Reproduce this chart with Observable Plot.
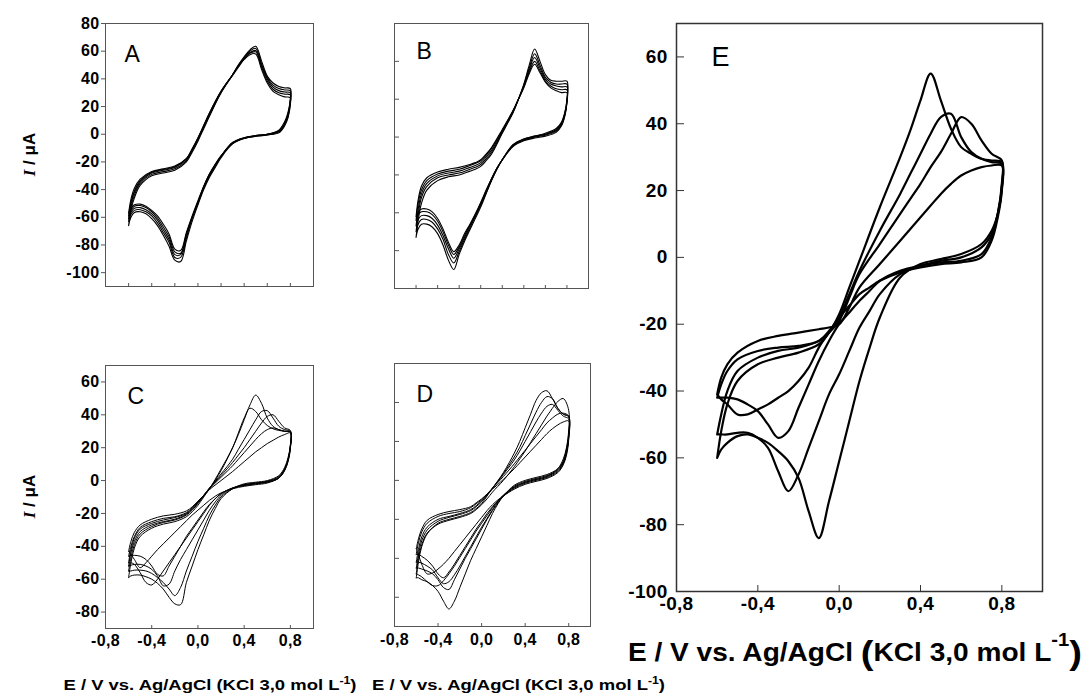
<!DOCTYPE html>
<html><head><meta charset="utf-8">
<script src="https://cdn.jsdelivr.net/npm/d3@7"></script>
<script src="https://cdn.jsdelivr.net/npm/@observablehq/plot@0.6"></script>
<style>
html,body{margin:0;padding:0;background:#fff;}
#wrap{position:relative;width:1086px;height:699px;overflow:hidden;font-family:"Liberation Sans",Arial,sans-serif;}
g[aria-label$="tick label"] text{letter-spacing:0.3px;}
</style></head><body><div id="wrap"></div>
<script>
// Potential grids (V): forward scan then reverse scan
const gridF = [-0.6,-0.58,-0.55,-0.5,-0.4,-0.3,-0.2,-0.1,-0.05,0,0.05,0.1,0.2,0.3,0.35,0.4,0.45,0.5,0.55,0.6,0.65,0.7,0.75,0.8];
const gridR = [0.8,0.78,0.75,0.7,0.6,0.5,0.4,0.3,0.2,0.15,0.1,0.05,0,-0.05,-0.1,-0.15,-0.2,-0.25,-0.3,-0.35,-0.4,-0.45,-0.5,-0.55,-0.58,-0.6];

// Panel A currents (µA)
const aForward = [
[-66,-55,-46,-37,-30,-28,-26,-20,-13,-5,4,13,30,43,50,56,61,63.5,53,42,37,34.5,33.5,33],
[-63,-53,-44,-35.5,-29,-27,-25,-19,-12,-4,5,14,30,43,50,55.5,60,62,51,41,35.5,33,32,31.5],
[-61,-51,-42,-34.5,-28,-26,-24,-18,-11,-3,6,15,31,43,49.5,55,59,60.5,50,40,34,31.5,30.5,30],
[-59,-49,-41,-33.5,-27.5,-25.5,-23.5,-18,-11,-3,6,15,31,43,49,54.5,58.5,59.5,48.5,38.5,32.5,30,29,28.5],
[-57,-47,-39,-32.5,-27,-25,-23,-17.5,-10.5,-2.5,6.5,15.5,31,42.5,48.5,54,57.5,58,47,37,31,28.5,27,26.5]];
const aReverse = [
[26,16,9,3,0,-1,-3,-7,-17,-24,-31,-40,-51,-63,-77,-92,-91,-81,-73,-66,-61,-57.5,-56,-56.5,-60,-66],
[25,15,8,2.5,0,-1,-2.5,-6,-16,-23,-30,-39,-50,-61,-75,-89,-89,-78,-71,-64,-59,-56,-54.5,-55,-58,-63],
[24,14,7.5,2,0,-1,-2.5,-6,-16,-22,-29,-38,-49,-60,-73,-87,-87,-76,-69,-62,-57.5,-54.5,-53,-53.5,-56.5,-61],
[23,13,7,1.5,-0.5,-1.5,-3,-6.5,-16,-22,-29,-38,-49,-60,-72,-86,-85,-74,-67,-60.5,-56,-53,-51.5,-52,-55,-59],
[22,12,6,1,-0.5,-1.5,-3,-6.5,-15.5,-21.5,-28.5,-37.5,-48,-59,-71,-84,-83,-72,-65,-59,-55,-52,-50.5,-51,-53.5,-57]];

// Panel B
const bForward = [
[-53,-44,-35,-28,-23,-21,-20,-18,-17,-15.5,-12.5,-9,2,13,20,28,38,46.5,40,33,30,29.5,29.5,29.5],
[-50,-41,-32,-26,-21.5,-20,-19,-17,-16,-14.5,-11.5,-8,2.5,13,20,27.5,36.5,44,38,31.5,29,28,28,28],
[-47,-38,-30,-24.5,-20.5,-19,-18,-16,-15,-13.5,-10.5,-7,3,13.5,20,27,35.5,42,36.5,30.5,28,27,26.5,26.5],
[-44,-35,-28,-23,-19.5,-18,-17,-15,-14,-12.5,-9.5,-6,3.5,14,20,26.5,34.5,40,35,29.5,27,25.5,25,25],
[-42,-33,-26,-21.5,-18.5,-17,-16,-14.5,-13.5,-12,-9,-5.5,4,14,20,26,33.5,38.5,34,29,26,24.5,23.5,23.5]];
const bReverse = [
[20,13,8,4.5,2,0.5,-1,-4,-12,-17,-23,-30,-37,-43,-49,-55,-62,-70,-65,-57,-51,-47.5,-46,-46,-48.5,-53],
[19.5,12.5,7.5,4,1.5,0.5,-1,-4,-12,-17,-23,-29.5,-36,-42,-48,-54,-60.5,-66.5,-62,-54,-48.5,-45,-43.5,-43.5,-46,-50],
[19,12,7,3.5,1.5,0,-1.5,-4.5,-12,-16.5,-22.5,-29,-35.5,-41.5,-47,-53,-59,-64,-59,-52,-46.5,-43,-41.5,-41.5,-43.5,-47],
[18.5,11.5,6.5,3,1,0,-1.5,-4.5,-12,-16.5,-22,-28.5,-35,-41,-46.5,-52,-58,-62,-57,-50,-44.5,-41,-39.5,-39.5,-41,-44],
[18,11,6,2.5,0.5,-0.5,-2,-5,-12,-16.5,-22,-28,-34.5,-40.5,-46,-51,-57,-60.5,-55.5,-48.5,-43,-39.5,-38,-38,-39.5,-42]];

// Panel C
const cForward = [
[-59,-50,-41,-34,-29,-26.5,-25,-22,-19,-15,-10,-5,6,20,28,37,46,52,47,38,33,31,30,29.5],
[-55,-47,-39,-32.5,-28,-25.5,-24,-21,-18,-14,-9.5,-5,7,20,29,38,44,42,37,33.5,31.5,30.5,30,29.5],
[-52,-44,-37,-31,-27,-25,-23.5,-20.5,-17.5,-13.5,-9,-4.5,4,13,19,25,31,37,42,42.5,38,33,31,30],
[-50,-42,-35,-29.5,-26,-24,-22.5,-20,-17,-13,-9,-4.5,3,11,15.5,20,25,30,35,39,40,36,32,30.5],
[-46,-40,-34,-28.5,-25,-23,-22,-19.5,-16.5,-13,-9,-5,2,9,13,17,21,25,28.5,31,32,31,30,29.5],
[-43,-37,-31.5,-27,-23.5,-21.5,-20.5,-18.5,-16,-12.5,-9,-5.5,0,5.5,8.5,11.5,14.5,17.5,20,22.5,24.5,26.5,28,29]];
const cReverse = [
[22,14,8,3,0,-1,-2,-5,-11,-17,-24,-33,-42,-52,-62,-75.5,-75,-71,-66,-62.5,-60,-58.5,-57.5,-57.5,-58,-59],
[21,13,7,2.5,-0.5,-1.5,-2.5,-5,-10,-15,-21,-29,-37,-46,-55,-65,-70,-66,-62,-59,-56.5,-55,-54.5,-54.5,-55,-55],
[21,13,7,2,-0.5,-1.5,-2.5,-4.5,-9,-13,-18,-24,-30,-36,-42,-48,-55,-63,-64,-58,-54,-52,-51,-51,-51.5,-52],
[20.5,12.5,6.5,1.5,-1,-2,-3,-4.5,-8,-11,-15,-20,-25,-30,-35,-40,-45,-50,-55,-60,-63.5,-62,-56,-51,-50,-50],
[20,12,6.5,1.5,-1,-2,-3,-4.5,-8,-11,-14.5,-19,-24,-29,-34,-40,-46,-52,-58,-57,-52,-48,-46,-45.5,-45.5,-46],
[19.5,11.5,6,1.5,-1.5,-2.5,-3.5,-5,-7.5,-9.5,-12,-15,-18,-21,-24.5,-28,-31.5,-35,-38.5,-42,-46,-50,-53,-48,-45,-43]];

// Panel D
const dForward = [
[-50,-42,-34,-27.5,-22,-20,-18.5,-16.5,-14.5,-12,-8,-4,4,14,20,27,34,41,45,46,42,37,34,33],
[-45,-38,-31,-25.5,-21,-19,-17.5,-15.5,-13.5,-11,-7.5,-4,3.5,12,17,23,29,35,40,43,42,37,34,32.5],
[-48,-40,-33,-27,-22.5,-20.5,-19,-17,-15,-12.5,-9.5,-6,0,7,11,15,19.5,24,28.5,33,37,40.5,42,36],
[-42,-35.5,-29,-24,-20,-18.5,-17,-15,-13,-10.5,-7.5,-4,3,10.5,15,20,25,30,34.5,38,39,36,33,31.5],
[-38,-32,-26.5,-22,-18.5,-17,-16,-14,-12,-10,-7,-4,2,8.5,12,15.5,19,22.5,26,29.5,32,34,34.5,33],
[-35,-30,-25,-20.5,-17.5,-16,-15,-13.5,-11.5,-9.5,-7,-4.5,0.5,6,9,12,15,18,21,24,26.5,28.5,30,30.5]];
const dReverse = [
[24,16,10,6,3,1.5,0,-2.5,-8,-12,-17,-23,-29,-35,-41,-48,-55,-62,-66,-62,-57,-54,-52,-51,-50,-50],
[23,15,9.5,5.5,2.5,1,-0.5,-3,-8,-11.5,-15.5,-20,-25,-30,-35,-40,-45.5,-51,-56,-55,-51,-48,-46.5,-45.5,-45,-45],
[26,17,11,6,2,0.5,-1,-3.5,-7.5,-10.5,-14,-18,-22,-26,-30.5,-35,-39.5,-44,-48,-51.5,-54,-54,-52,-49.5,-48.5,-48],
[22.5,14.5,9,5,2,0.5,-1,-3.5,-8,-11,-15,-19.5,-24,-29,-34,-39,-44,-48.5,-52,-53,-50,-46,-44,-42.5,-42,-42],
[22,14,8.5,4.5,1.5,0,-1.5,-4,-8,-10.5,-13.5,-17,-21,-25,-29.5,-34,-38.5,-43,-47,-50,-48,-44,-41,-39,-38,-38],
[21,13,8,4,1,-0.5,-2,-4.5,-8,-10,-12.5,-15.5,-19,-22.5,-26,-29.5,-33,-36.5,-40,-43,-45.5,-47.5,-48,-43,-38,-35]];

// Panel E
const eForward = [
[-60,-52,-44,-37,-32,-30,-28.5,-26,-22.5,-17,-9,-1,15,30,38,47,55,47,38.5,33,31,29.5,29,28.5],
[-53,-47,-40,-34,-30,-28,-27,-25,-22,-18,-11,-4,8,19,25,31,37,42,43,36,31.5,29.5,28.5,28],
[-42,-38,-34,-30.5,-28,-27,-26.5,-25,-22.5,-19,-12,-5,4,13,17.5,22,27,31.5,37,42,40,35,31,29],
[-41,-36,-32,-28.5,-25,-23.5,-22.5,-21.5,-21,-20,-15,-9,-2,5,8.5,12,15.5,19,22,24.5,26,27,27.5,27.5]];
const eReverse = [
[21,13,8,4,1,-0.5,-2,-6,-18,-27,-37,-49,-61,-73,-84,-76,-66,-61,-58,-55.5,-54,-53,-53.5,-55.5,-57.5,-60],
[21,13,7,3,0,-1,-2.5,-5,-11,-16,-21,-28,-35,-41,-49,-57,-65,-70,-64,-57,-54,-52.5,-52.5,-53,-53,-53],
[22,13,6,1,-1,-1.5,-2.5,-4,-7,-10,-13,-16.5,-20,-25,-31,-38,-45,-52,-54,-50,-46,-44,-42.5,-42,-42,-42],
[20,12,5,0,-1.5,-2,-3,-4.5,-7,-9,-11,-14.5,-18,-22.5,-27,-33,-37,-40,-42,-44,-45.5,-47,-47,-44,-42.5,-41]];

// Tick values
const ticksA_Y = [-100,-80,-60,-40,-20,0,20,40,60,80];
const ticksC_Y = [-80,-60,-40,-20,0,20,40,60];
const ticksBD_Y = [-60,-40,-20,0,20,40];
const ticksE_Y = [-100,-80,-60,-40,-20,0,20,40,60];
const ticksMinorX = [-0.6,-0.4,-0.2,0,0.2,0.4,0.6,0.8];
const ticksX = [-0.8,-0.4,0,0.4,0.8];
const panelLetters = ["A","B","C","D","E"];

const fmtI = d => String(d);
const fmtE = d => d.toFixed(1).replace(".", ",");
const wrap = document.getElementById("wrap");
const FONT = "'Liberation Sans', Arial, Helvetica, sans-serif";

function panel(cfg) {
  const ml = 70, mr = 12, mt = 12, mb = 34;
  const rows = [];
  cfg.fw.forEach((f, k) => {
    f.forEach((v, j) => rows.push({E: gridF[j], I: v, c: k}));
    cfg.rv[k].forEach((v, j) => rows.push({E: gridR[j], I: v, c: k}));
  });
  const marks = [
    Plot.frame({stroke: cfg.frameColor, strokeWidth: cfg.frameWidth}),
    Plot.line(rows, {x: "E", y: "I", z: "c", curve: "catmull-rom", stroke: "#000", strokeWidth: cfg.lw})
  ];
  if (cfg.xIn) marks.push(Plot.axisX(cfg.xIn, {anchor: "top", frameAnchor: "bottom", tickSize: cfg.tick, fill: "none", label: null, stroke: cfg.frameColor}));
  if (cfg.yIn) marks.push(Plot.axisY(cfg.yIn, {anchor: "right", frameAnchor: "left", tickSize: cfg.tick, fill: "none", label: null, stroke: cfg.frameColor}));
  if (cfg.xLab) marks.push(Plot.axisX(cfg.xLab, {anchor: "bottom", tickSize: 0, tickPadding: cfg.xPad, tickFormat: fmtE, fontSize: cfg.fs, fontWeight: "bold", label: null, fill: "#000"}));
  if (cfg.yLab) marks.push(Plot.axisY(cfg.yLab, {anchor: "left", tickSize: cfg.yOut, tickPadding: cfg.yPad, tickFormat: fmtI, fontSize: cfg.fs, fontWeight: "bold", label: null, fill: "#000", stroke: cfg.frameColor}));
  marks.push(Plot.text([cfg.letter], {text: d => d, frameAnchor: "top-left", dx: cfg.ldx, dy: cfg.ldy, textAnchor: "start", lineAnchor: "middle", fontSize: cfg.lfs, fontWeight: "normal", fill: "#000"}));
  const svg = Plot.plot({
    width: ml + cfg.w + mr, height: mt + cfg.h + mb,
    marginLeft: ml, marginRight: mr, marginTop: mt, marginBottom: mb,
    x: {domain: [-0.8, 1.0]}, y: {domain: cfg.yd},
    style: {fontFamily: FONT, background: "transparent", overflow: "visible", color: "#000"},
    marks
  });
  svg.style.position = "absolute";
  svg.style.left = (cfg.l - ml) + "px";
  svg.style.top = (cfg.t - mt) + "px";
  svg.style.maxWidth = "none";
  wrap.appendChild(svg);
}

panel({letter: panelLetters[0], l: 105, t: 23, w: 208, h: 263, yd: [-110, 80], fw: aForward, rv: aReverse,
  frameColor: "#555", frameWidth: 1, lw: 1.1, tick: 4, xIn: ticksMinorX, yLab: ticksA_Y, yOut: 4, yPad: 2, fs: 16,
  ldx: 19, ldy: 31, lfs: 23});
panel({letter: panelLetters[1], l: 394, t: 23, w: 194, h: 265, yd: [-80, 60], fw: bForward, rv: bReverse,
  frameColor: "#555", frameWidth: 1, lw: 1.1, tick: 4, xIn: ticksMinorX, yIn: ticksBD_Y, fs: 16,
  ldx: 22, ldy: 28, lfs: 23});
panel({letter: panelLetters[2], l: 105, t: 365, w: 208, h: 263, yd: [-90, 70], fw: cForward, rv: cReverse,
  frameColor: "#555", frameWidth: 1, lw: 1, tick: 4, xIn: ticksX, xLab: ticksX, xPad: 6, yLab: ticksC_Y, yOut: 4, yPad: 2, fs: 16,
  ldx: 22, ldy: 31, lfs: 23});
panel({letter: panelLetters[3], l: 394, t: 363, w: 196, h: 263, yd: [-75, 60], fw: dForward, rv: dReverse,
  frameColor: "#555", frameWidth: 1, lw: 1, tick: 4, xIn: ticksX, xLab: ticksX, xPad: 7, yIn: ticksBD_Y, fs: 16,
  ldx: 22, ldy: 31, lfs: 23});
panel({letter: panelLetters[4], l: 676, t: 23, w: 366, h: 568, yd: [-100, 70], fw: eForward, rv: eReverse,
  frameColor: "#333", frameWidth: 1.5, lw: 2.2, tick: 7, xIn: ticksX, xLab: ticksX, xPad: 5, yIn: ticksE_Y, yLab: ticksE_Y, yOut: 0, yPad: 9, fs: 19,
  ldx: 35, ldy: 34, lfs: 27});

// Axis titles (text overlay)
const NS = "http://www.w3.org/2000/svg";
const ov = document.createElementNS(NS, "svg");
ov.setAttribute("width", 1086); ov.setAttribute("height", 699);
ov.setAttribute("style", "position:absolute;left:0;top:0;overflow:visible");
ov.setAttribute("font-family", "Liberation Sans, Arial, sans-serif");
ov.setAttribute("font-weight", "bold");
const yTitle = (cy) => `<text transform="translate(35,${cy}) rotate(-90)" text-anchor="middle" font-size="17"><tspan font-family="Liberation Serif, Times New Roman, serif" font-style="italic">I</tspan> / μA</text>`;
const smallX = (x) => `<text x="${x}" y="690" font-size="15" textLength="293" lengthAdjust="spacingAndGlyphs">E / V vs. Ag/AgCl (KCl 3,0 mol L<tspan font-size="10" dy="-6">-1</tspan><tspan dy="6">)</tspan></text>`;
ov.innerHTML = yTitle(154.5) + yTitle(496.5) + smallX(63.5) + smallX(372) +
  `<text x="628" y="661" font-size="25" textLength="454" lengthAdjust="spacingAndGlyphs">E / V vs. Ag/AgCl <tspan font-size="34" dy="3">(</tspan><tspan dy="-3">KCl 3,0 mol L</tspan><tspan font-size="18" dy="-15">-1</tspan><tspan font-size="34" dy="18">)</tspan></text>`;
wrap.appendChild(ov);
</script></body></html>
